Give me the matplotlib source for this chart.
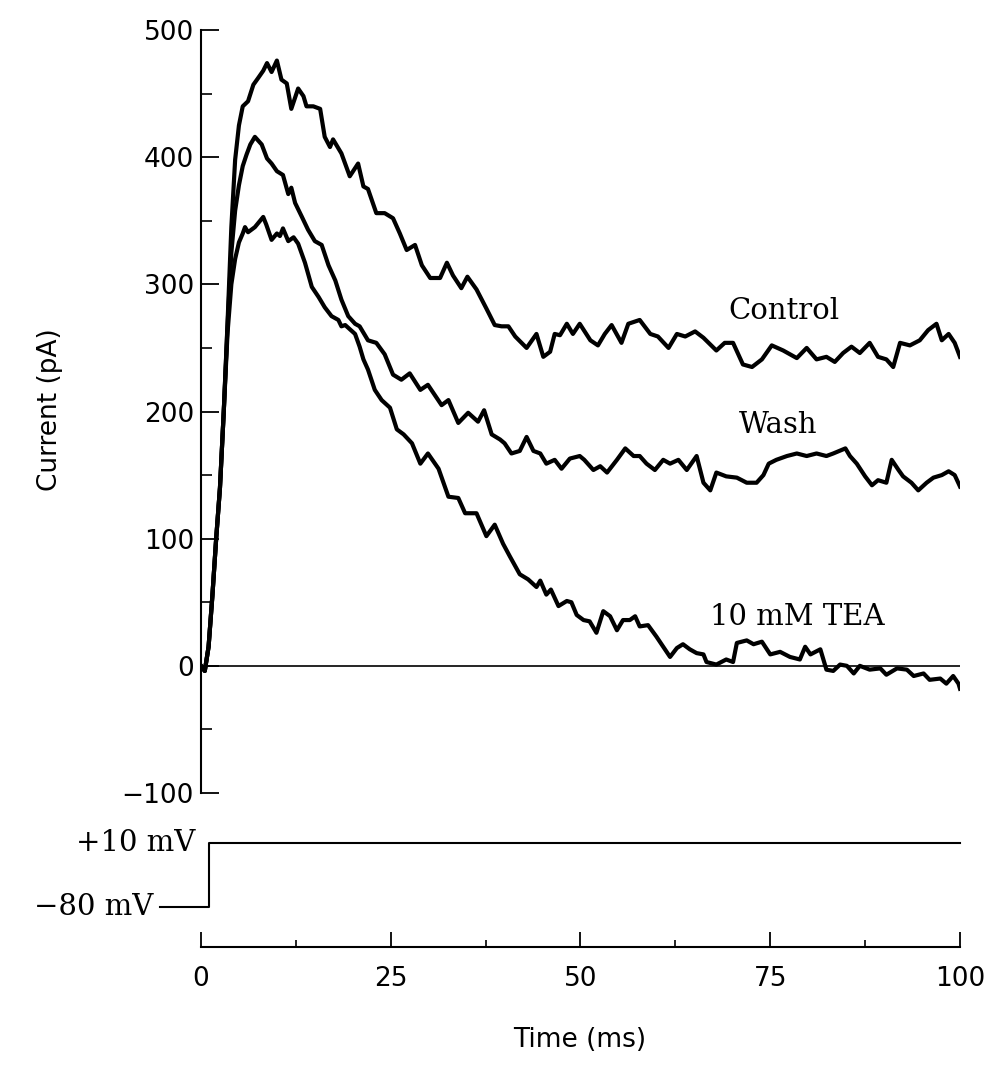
import matplotlib.pyplot as plt
from matplotlib.ticker import MultipleLocator

# current traces: (time ms, current pA)
control = [(0, 0), (0.5, -4), (1.0, 15), (1.5, 55), (2.0, 100), (2.5, 140), (3.0, 200), (3.5, 270),
           (4.0, 345), (4.5, 398), (5.0, 425), (5.5, 440), (6.2, 444), (6.9, 457), (7.5, 462), (8.2, 468),
           (8.7, 474), (9.3, 467), (10.0, 476), (10.6, 461), (11.3, 458), (11.9, 438), (12.8, 454),
           (13.5, 448), (13.9, 440), (14.8, 440), (15.7, 438), (16.3, 416), (17.0, 408), (17.4, 414),
           (18.5, 403), (19.6, 385), (20.7, 395), (21.4, 377), (22.0, 375), (23.1, 356), (24.2, 356),
           (25.3, 352), (26.2, 340), (27.1, 327), (28.2, 331), (29.1, 315), (30.2, 305), (31.5, 305),
           (32.4, 317), (33.2, 307), (34.3, 297), (35.1, 306), (36.3, 296), (37.6, 281), (38.7, 268),
           (39.6, 267), (40.5, 267), (41.4, 259), (42.9, 250), (44.2, 261), (45.1, 243), (46.0, 247),
           (46.6, 261), (47.3, 260), (48.2, 269), (49.0, 261), (49.9, 269), (51.3, 256), (52.3, 252),
           (53.2, 261), (54.1, 268), (55.4, 254), (56.3, 269), (57.8, 272), (59.2, 261), (60.2, 259),
           (61.6, 250), (62.7, 261), (63.8, 259), (65.1, 263), (66.2, 258), (67.9, 248), (69.0, 254),
           (70.1, 254), (71.4, 237), (72.6, 235), (73.9, 241), (75.2, 252), (76.7, 248), (78.5, 242),
           (79.8, 250), (81.1, 241), (82.4, 243), (83.5, 239), (84.6, 246), (85.7, 251), (86.8, 246),
           (88.1, 254), (89.2, 243), (90.3, 241), (91.2, 235), (92.1, 254), (93.4, 252), (94.7, 256),
           (95.8, 264), (96.9, 269), (97.6, 256), (98.5, 261), (99.3, 254), (100, 243)]

wash = [(0, 0), (0.5, -4), (1.0, 15), (1.5, 55), (2.0, 100), (2.5, 140), (3.0, 200), (3.5, 268),
        (4.0, 325), (4.5, 358), (5.0, 378), (5.5, 393), (6.0, 402), (6.5, 410), (7.1, 416), (8.0, 410),
        (8.7, 399), (9.3, 395), (10.0, 389), (10.8, 386), (11.5, 371), (11.9, 376), (12.4, 364),
        (13.3, 353), (14.1, 343), (15.0, 334), (15.9, 331), (16.8, 315), (17.7, 303), (18.5, 288),
        (19.4, 275), (20.3, 269), (20.9, 267), (22.0, 256), (23.1, 254), (24.2, 245), (25.3, 229),
        (26.4, 225), (27.5, 230), (28.9, 217), (29.9, 221), (30.8, 213), (31.7, 205), (32.6, 209),
        (33.9, 191), (35.2, 199), (36.5, 192), (37.3, 201), (38.3, 182), (39.4, 178), (40.0, 175),
        (40.9, 167), (42.0, 169), (42.9, 180), (43.8, 169), (44.7, 167), (45.5, 159), (46.6, 162),
        (47.5, 155), (48.6, 163), (49.9, 165), (50.5, 162), (51.7, 154), (52.6, 157), (53.5, 152),
        (54.8, 162), (55.9, 171), (57.0, 165), (57.8, 165), (58.7, 159), (59.8, 154), (60.9, 162),
        (61.8, 159), (62.9, 162), (64.0, 154), (65.3, 165), (66.2, 144), (67.1, 138), (67.9, 152),
        (69.2, 149), (70.6, 148), (71.9, 144), (73.2, 144), (74.1, 150), (74.8, 159), (75.8, 162),
        (77.2, 165), (78.5, 167), (79.8, 165), (81.1, 167), (82.4, 165), (83.3, 167), (84.9, 171),
        (85.5, 165), (86.4, 159), (87.5, 149), (88.4, 142), (89.2, 146), (90.3, 144), (91.0, 162),
        (91.9, 154), (92.5, 149), (93.6, 144), (94.5, 138), (95.6, 144), (96.5, 148), (97.6, 150),
        (98.5, 153), (99.3, 150), (100, 141)]

tea = [(0, 0), (0.5, -4), (1.0, 15), (1.5, 55), (2.0, 100), (2.5, 140), (3.0, 200), (3.5, 262),
       (4.0, 300), (4.5, 320), (5.0, 333), (5.5, 340), (5.8, 345), (6.2, 341), (7.1, 345), (8.2, 353),
       (8.6, 347), (9.3, 335), (10.0, 340), (10.4, 338), (10.8, 344), (11.5, 334), (12.2, 337),
       (12.8, 332), (13.7, 317), (14.6, 298), (15.5, 290), (16.3, 282), (17.2, 275), (18.1, 272),
       (18.5, 267), (19.0, 268), (20.3, 261), (20.9, 251), (21.4, 241), (22.0, 233), (22.9, 217),
       (23.8, 209), (24.9, 203), (25.8, 186), (26.7, 182), (27.8, 175), (28.9, 159), (29.9, 167),
       (31.3, 155), (32.6, 133), (33.9, 132), (34.8, 120), (36.3, 120), (37.6, 102), (38.7, 111),
       (39.8, 96), (40.7, 86), (42.0, 72), (43.1, 68), (44.2, 62), (44.7, 67), (45.5, 56), (46.1, 60),
       (47.1, 47), (48.2, 51), (48.8, 50), (49.5, 40), (50.4, 36), (51.2, 35), (52.1, 26), (53.0, 43),
       (53.9, 39), (54.8, 28), (55.6, 36), (56.5, 36), (57.2, 39), (57.8, 31), (58.9, 32), (60.0, 23),
       (60.9, 15), (61.8, 7), (62.7, 14), (63.5, 17), (64.4, 13), (65.3, 10), (66.2, 9), (66.6, 3),
       (67.9, 1), (69.2, 5), (70.1, 3), (70.6, 18), (71.9, 20), (72.8, 17), (73.9, 19), (75.0, 9),
       (76.3, 11), (77.6, 7), (78.9, 5), (79.6, 15), (80.3, 9), (81.6, 13), (82.4, -3), (83.3, -4),
       (84.2, 1), (85.1, 0), (86.0, -6), (86.8, 0), (88.1, -3), (89.5, -2), (90.3, -7), (91.7, -2),
       (93.0, -3), (93.9, -8), (95.2, -6), (96.0, -11), (97.4, -10), (98.2, -14), (99.1, -8),
       (99.8, -14), (100, -18)]

# voltage protocol (ms, mV)
step_t = [-5.4, 1.0, 1.0, 100]
step_v = [-80, -80, 10, 10]

labels = {"Control": (76.8, 273), "Wash": (76.0, 183), "10 mM TEA": (78.5, 32)}

sans = "DejaVu Sans"
serif = "DejaVu Serif"

fig = plt.figure(figsize=(9.94, 10.65), dpi=100)
ax = fig.add_axes([0.2022, 0.2554, 0.7636, 0.7164])

for trace in (control, wash, tea):
    t, i = zip(*trace)
    ax.plot(t, i, color="black", lw=3.0, solid_joinstyle="round")
ax.plot([0, 100], [0, 0], color="black", lw=1.2)

for name, (x, y) in labels.items():
    ax.text(x, y, name, ha="center", va="baseline", fontsize=21, family=serif)

ax.set_xlim(0, 100)
ax.set_ylim(-100, 500)
for s in ("top", "right", "bottom"):
    ax.spines[s].set_visible(False)
ax.spines["left"].set_linewidth(1.5)
ax.set_xticks([])
ax.set_yticks(range(-100, 501, 100))
ax.yaxis.set_minor_locator(MultipleLocator(50))
ax.tick_params(axis="y", which="major", direction="in", length=13, width=1.3,
               labelsize=19, pad=5)
ax.tick_params(axis="y", which="minor", direction="in", length=8, width=1.2)
for lab in ax.get_yticklabels():
    lab.set_family(sans)

# voltage step and time axis
ax2 = fig.add_axes([0.2022, 0.1108, 0.7636, 0.1239])
ax2.plot(step_t, step_v, color="black", lw=1.5, clip_on=False)
ax2.text(-0.8, 10, "+10 mV", ha="right", va="center", fontsize=21, family=serif)
ax2.text(-6.3, -80, "\u221280 mV", ha="right", va="center", fontsize=21, family=serif)
ax2.set_xlim(0, 100)
ax2.set_ylim(-136, 49)
for s in ("top", "right", "left"):
    ax2.spines[s].set_visible(False)
ax2.spines["bottom"].set_linewidth(1.5)
ax2.set_yticks([])
ax2.set_xticks([0, 25, 50, 75, 100])
ax2.xaxis.set_minor_locator(MultipleLocator(12.5))
ax2.tick_params(axis="x", which="major", direction="in", length=11, width=1.3,
                labelsize=19, pad=14)
ax2.tick_params(axis="x", which="minor", direction="in", length=5, width=1.2)
for lab in ax2.get_xticklabels():
    lab.set_family(sans)

fig.text(50 / 994, 1 - 410 / 1065, "Current (pA)", rotation=90, ha="center", va="center",
         fontsize=19, family=sans)
fig.text(580 / 994, 1 - 1040 / 1065, "Time (ms)", ha="center", va="center",
         fontsize=19, family=sans)

fig.savefig("out.png", dpi=100)
